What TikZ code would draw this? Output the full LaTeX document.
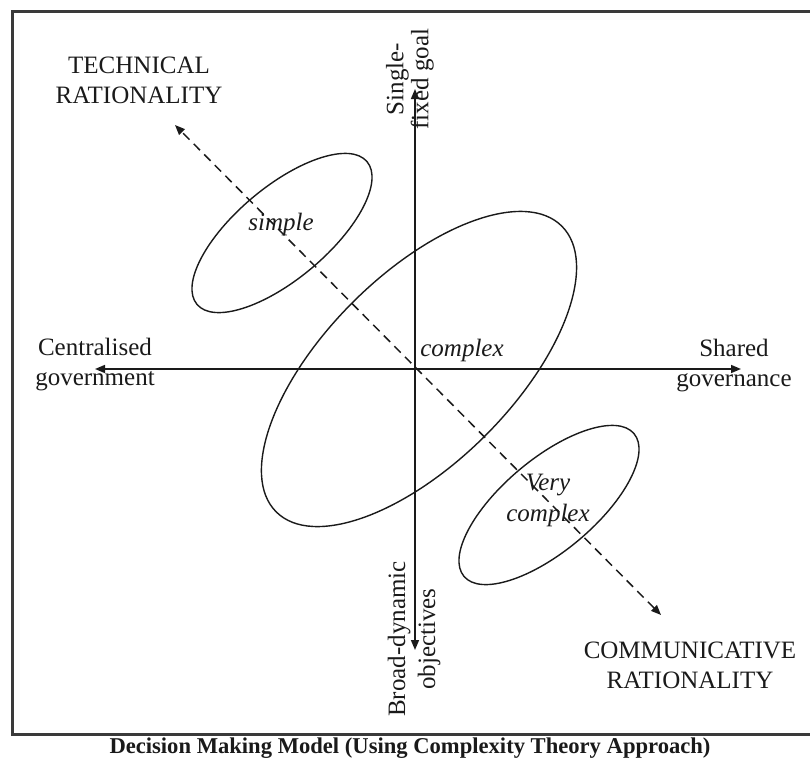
\documentclass[tikz,border=0pt]{standalone}
\usepackage{fontspec}
\setmainfont{Liberation Serif}
\usetikzlibrary{arrows.meta,positioning}
\definecolor{ink}{HTML}{1A1A1A}
\definecolor{framegrey}{HTML}{3A3A3A}
\tikzset{
  axis/.style={line width=0.8pt,draw=ink,{Triangle[length=5pt,width=4pt]}-{Triangle[length=5pt,width=4pt]}},
  trend/.style={line width=0.75pt,draw=ink,dash pattern=on 4.5pt off 3pt,{Triangle[length=5pt,width=4pt]}-{Triangle[length=5pt,width=4pt]}},
  zone/.style={draw=ink,line width=0.7pt},
  lbl/.style={font=\fontsize{12.5}{15}\selectfont,align=center,inner sep=0pt,text=ink},
  zlbl/.style={lbl,font=\fontsize{12.5}{15.5}\selectfont\itshape},
}
\begin{document}
\begin{tikzpicture}[x=0.5pt,y=-0.5pt]
  \useasboundingbox (0,0) rectangle (810,761);
  \draw[framegrey,line width=1.5pt] (812,11) -- (12,11) -- (12,734) -- (812,734);
  % axes
  \coordinate (o) at (415,369);
  \coordinate (up) at (415,89);
  \coordinate (down) at (415,650);
  \coordinate (left) at (95,369);
  \coordinate (right) at (741,369);
  \coordinate (tr) at (175,125);
  \coordinate (cr) at (661,615);
  % zones
  \draw[zone,rotate around={40:(282,233)}] (282,233) ellipse [x radius=55.5pt,y radius=23pt];
  \draw[zone,rotate around={45:(419,369)}] (419,369) ellipse [x radius=101pt,y radius=47pt];
  \draw[zone,rotate around={40:(549,505)}] (549,505) ellipse [x radius=55.5pt,y radius=23pt];
  \draw[axis] (down) -- (up);
  \draw[axis] (left) -- (right);
  \draw[trend] (cr) -- (tr);
  % labels
  \node[lbl] (tech) at (139,80) {TECHNICAL\\RATIONALITY};
  \node[lbl] (comm) at (690,665) {COMMUNICATIVE\\RATIONALITY};
  \node[lbl] (cent) at (95,365) {Centralised\\government};
  \node[lbl] (shared) at (734,366) {Shared\\governance};
  \node[lbl,rotate=90,font=\fontsize{12.5}{12.5}\selectfont] (goal) at (410,79) {Single-\\fixed goal};
  \node[lbl,rotate=90] (broad) at (414,639) {Broad-dynamic\\objectives};
  \node[zlbl] (simple) at (281,224) {simple};
  \node[zlbl] (complex) at (462,350) {complex};
  \node[zlbl] (vcomplex) at (548,500) {Very\\complex};
  \node[lbl,font=\fontsize{11.3}{14}\selectfont\bfseries] (cap) at (410,748) {Decision Making Model (Using Complexity Theory Approach)};
\end{tikzpicture}
\end{document}
